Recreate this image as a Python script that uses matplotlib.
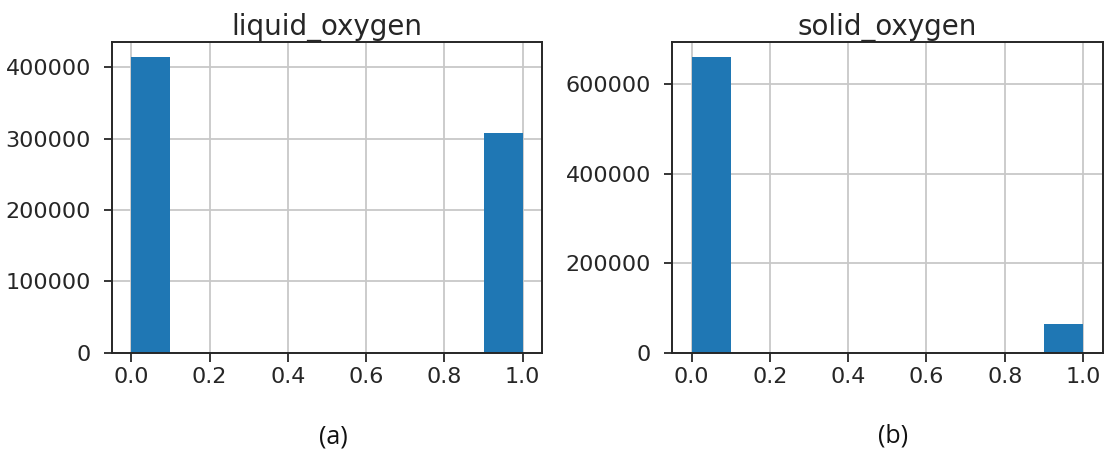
import matplotlib
matplotlib.use("Agg")
import matplotlib.pyplot as plt
import numpy as np

# Data
values = [0.0, 1.0]
liquid_counts = [414500, 308600]
solid_counts = [660600, 65100]
titles = ["liquid_oxygen", "solid_oxygen"]
captions = ["(a)", "(b)"]
n_bins = 10

W, H = 1104, 455
fig = plt.figure(figsize=(W / 100, H / 100), dpi=100)
plt.rcParams['font.family'] = 'DejaVu Sans'

top, bottom = 42.3, 352.7
rects = [
    [111.7 / W, (H - bottom) / H, (542.3 - 111.7) / W, (bottom - top) / H],
    [672.0 / W, (H - bottom) / H, (1102.6 - 672.0) / W, (bottom - top) / H],
]
caption_xy = [(333, 437), (893, 436)]
yticks = [[0, 100000, 200000, 300000, 400000], [0, 200000, 400000, 600000]]

for i, counts in enumerate([liquid_counts, solid_counts]):
    ax = fig.add_axes(rects[i])
    ax.hist(values, bins=n_bins, range=(0, 1), weights=counts, color="#1f77b4", zorder=2)
    ax.set_axisbelow(True)
    ax.grid(True, color="#c8c8c8", linewidth=1.3, zorder=0)
    ax.set_title(titles[i], fontsize=20, color="#262626", pad=5)
    ax.set_xticks([0.0, 0.2, 0.4, 0.6, 0.8, 1.0])
    ax.set_yticks(yticks[i])
    ax.tick_params(labelsize=16, colors="#262626", width=1.3)
    ax.tick_params(axis="x", length=6.5, pad=4)
    ax.tick_params(axis="y", length=5.5, pad=9.5)
    for s in ax.spines.values():
        s.set_linewidth(1.4)
        s.set_color("#262626")
    cx, cy = caption_xy[i]
    fig.text(cx / W, (H - cy) / H, captions[i], ha="center", va="center",
             fontsize=18, family="Open Sans", color="#111111")

fig.savefig("out.png", dpi=100)
